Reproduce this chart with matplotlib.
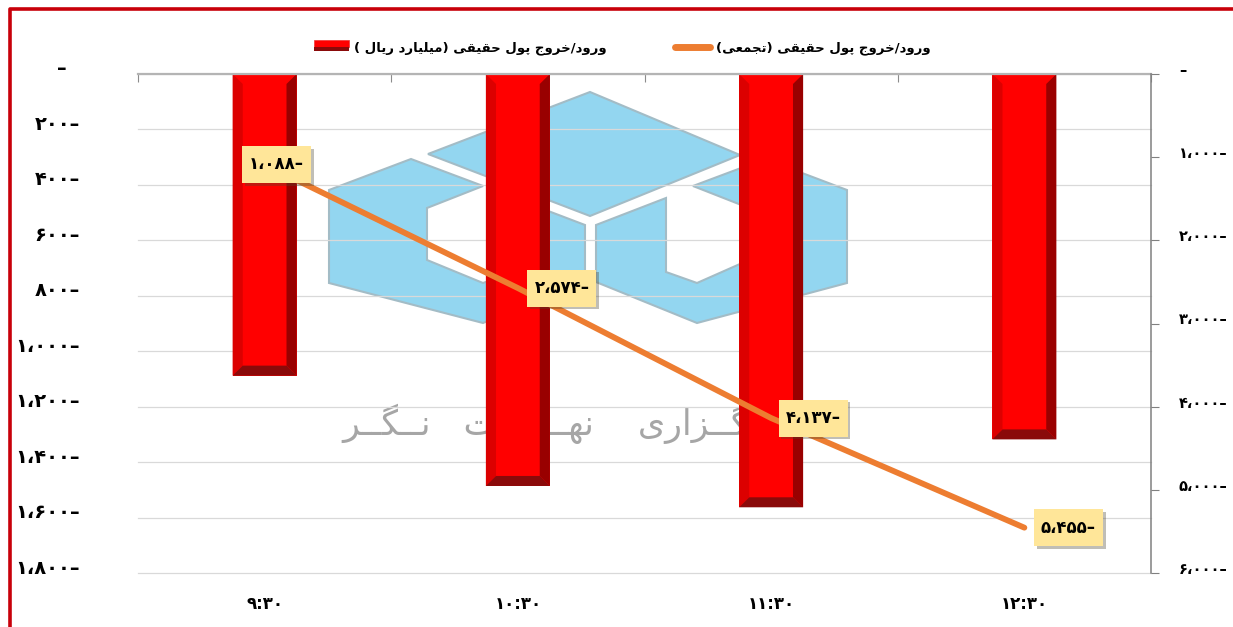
import matplotlib
matplotlib.use('Agg')
import matplotlib.pyplot as plt
import matplotlib.patheffects as pe
from matplotlib.legend_handler import HandlerBase
from matplotlib.lines import Line2D
from matplotlib.patches import Patch, Polygon, Rectangle
from matplotlib.transforms import Affine2D, ScaledTranslation

# chart data
times = ['۹:۳۰', '۱۰:۳۰', '۱۱:۳۰', '۱۲:۳۰']
flow = [-1088, -1486, -1563, -1318]
cumulative = [-1088, -2574, -4137, -5455]
left_ticks = [0, -200, -400, -600, -800, -1000, -1200, -1400, -1600, -1800]
right_ticks = [0, -1000, -2000, -3000, -4000, -5000, -6000]
bar_name = 'ورود/خروج پول حقیقی (میلیارد ریال )'
line_name = 'ورود/خروج پول حقیقی (تجمعی)'
# kashidas stretch the wide lettering of the watermark
watermark = 'خبــرگــزاری    نهــضــت   نــگــر'

W, H = 1233, 627
FONT = 'DejaVu Sans'

# matplotlib does not shape arabic script, so pick the joined forms by hand
# letter: (isolated, final, initial, medial)
FORMS = {
    'ا': (0xFE8D, 0xFE8E, None, None), 'ب': (0xFE8F, 0xFE90, 0xFE91, 0xFE92),
    'پ': (0xFB56, 0xFB57, 0xFB58, 0xFB59), 'ت': (0xFE95, 0xFE96, 0xFE97, 0xFE98),
    'ج': (0xFE9D, 0xFE9E, 0xFE9F, 0xFEA0), 'ح': (0xFEA1, 0xFEA2, 0xFEA3, 0xFEA4),
    'خ': (0xFEA5, 0xFEA6, 0xFEA7, 0xFEA8), 'د': (0xFEA9, 0xFEAA, None, None),
    'ر': (0xFEAD, 0xFEAE, None, None), 'ز': (0xFEAF, 0xFEB0, None, None),
    'ض': (0xFEBD, 0xFEBE, 0xFEBF, 0xFEC0), 'ع': (0xFEC9, 0xFECA, 0xFECB, 0xFECC),
    'ق': (0xFED5, 0xFED6, 0xFED7, 0xFED8), 'گ': (0xFB92, 0xFB93, 0xFB94, 0xFB95),
    'ل': (0xFEDD, 0xFEDE, 0xFEDF, 0xFEE0), 'م': (0xFEE1, 0xFEE2, 0xFEE3, 0xFEE4),
    'ن': (0xFEE5, 0xFEE6, 0xFEE7, 0xFEE8), 'ه': (0xFEE9, 0xFEEA, 0xFEEB, 0xFEEC),
    'و': (0xFEED, 0xFEEE, None, None), 'ی': (0xFBFC, 0xFBFD, 0xFBFE, 0xFBFF),
    'ـ': (0x640, 0x640, 0x640, 0x640),
}
MIRROR = {'(': ')', ')': '('}


def shape(text):
    out = []
    for i, ch in enumerate(text):
        if ch not in FORMS:
            out.append(MIRROR.get(ch, ch))
            continue
        prev = text[i - 1] if i > 0 else ''
        nxt = text[i + 1] if i + 1 < len(text) else ''
        join_prev = prev in FORMS and FORMS[prev][2] is not None
        join_next = nxt in FORMS and FORMS[ch][2] is not None
        form = (2 if not join_prev else 3) if join_next else (1 if join_prev else 0)
        out.append(chr(FORMS[ch][form]))
    return ''.join(reversed(out))


def fa(value):
    # persian digits, sign on the right as in the source
    digits = f'{abs(value):,}'.replace(',', '،')
    digits = digits.translate(str.maketrans('0123456789', '۰۱۲۳۴۵۶۷۸۹'))
    return digits + '–' if value < 0 else digits


fig = plt.figure(figsize=(W / 100, H / 100), dpi=100, facecolor='white')
ax = fig.add_axes([138 / W, 1 - 573 / H, (1151 - 138) / W, (573 - 74) / H])
ax2 = ax.twinx()
pixels = Affine2D().scale(1, -1).translate(0, H)

# red frame, open on the right and at the bottom
fig.add_artist(Line2D([9.5 / W, 9.5 / W, 1], [0, 1 - 9 / H, 1 - 9 / H], color='#c8000a', lw=2.6))

# logo behind the chart
logo_parts = [
    [(428, 154), (590, 92), (740, 155), (590, 216)],
    [(329, 190), (411, 159), (483, 186), (427, 208), (427, 260), (483, 283), (514, 272),
     (514, 198), (585, 225), (585, 282), (483, 323), (329, 283)],
    [(847, 190), (765, 159), (693, 186), (749, 208), (749, 260), (697, 283), (666, 272),
     (666, 198), (596, 225), (596, 282), (697, 323), (847, 283)],
]
for part in logo_parts:
    ax.add_patch(Polygon(part, closed=True, transform=pixels, clip_on=False, zorder=0.2,
                         facecolor='#93d6f0', edgecolor='#a3bcc6', lw=1.5))
ax.text(342, 424, shape(watermark), transform=pixels, color='#a6a6a6',
        fontsize=25, family=FONT, ha='left', va='center', zorder=0.3)

# bars with bevelled sides
bar_w = 0.2527
bev_x = 0.04
bev_y = 36
ax.bar(range(len(flow)), flow, width=bar_w, color='#ff0000', zorder=2)
for i, v in enumerate(flow):
    x0, x1 = i - bar_w / 2, i + bar_w / 2
    ax.add_patch(Polygon([(x0, 0), (x0 + bev_x, -bev_y), (x0 + bev_x, v + bev_y), (x0, v)],
                         facecolor='#dc0000', edgecolor='none', zorder=2.1))
    ax.add_patch(Polygon([(x1, 0), (x1 - bev_x, -bev_y), (x1 - bev_x, v + bev_y), (x1, v)],
                         facecolor='#990000', edgecolor='none', zorder=2.1))
    ax.add_patch(Polygon([(x0, v), (x0 + bev_x, v + bev_y), (x1 - bev_x, v + bev_y), (x1, v)],
                         facecolor='#8a0a0a', edgecolor='none', zorder=2.2))

ax.set_xlim(-0.5, len(times) - 0.5)
ax.set_ylim(left_ticks[-1], 0)
ax2.set_ylim(right_ticks[-1], 0)

# cumulative line and its boxed labels, offsets in pixels
line, = ax2.plot(range(len(cumulative)), cumulative, color='#ed7d31', lw=4.2,
                 solid_capstyle='round', zorder=3)
label_dx = [12, 44, 42, 44]
for i, v in enumerate(cumulative):
    cx, cy = ax2.transData.transform((i, v))
    cx += label_dx[i]
    box = Rectangle((cx - 34.5, cy - 18.5), 69, 37, transform=Affine2D(), facecolor='#ffe699',
                    edgecolor='none', clip_on=False, zorder=4)
    box.set_path_effects([pe.SimplePatchShadow(offset=(2, -2), alpha=0.35), pe.Normal()])
    ax2.add_patch(box)
    ax2.annotate(fa(v), (i, v), xytext=(label_dx[i] * 0.72, 0), textcoords='offset points',
                 ha='center', va='center', fontsize=12, fontweight='bold', family=FONT,
                 color='black', zorder=5)

# axes furniture
ax.set_axisbelow(True)
ax.grid(axis='y', color='#d9d9d9', lw=0.9)
for s in ['left', 'right', 'bottom']:
    ax.spines[s].set_visible(False)
ax.spines['top'].set_color('#b4b4b4')
ax.spines['top'].set_linewidth(1.6)
for s in ['left', 'top', 'bottom']:
    ax2.spines[s].set_visible(False)
ax2.spines['right'].set_color('#808080')
ax2.spines['right'].set_linewidth(1.1)

ax.set_xticks(range(len(times)))
ax.set_xticklabels(times, fontsize=12, fontweight='bold', family=FONT)
ax.set_xticks([i - 0.5 for i in range(len(times) + 1)], minor=True)
ax.tick_params(axis='x', which='major', length=0, pad=16)
ax.tick_params(axis='x', which='minor', bottom=False, top=True, direction='in', length=6,
               color='#8c8c8c', width=0.8)

ax.set_yticks(left_ticks)
ax.set_yticklabels(['–  '] + [fa(v) for v in left_ticks[1:]], fontsize=14, fontweight='bold', family=FONT)
ax.tick_params(axis='y', length=0, pad=42)
ax2.set_yticks(right_ticks)
ax2.set_yticklabels(['–'] + [fa(v) for v in right_ticks[1:]], fontsize=10.5, fontweight='bold', family=FONT)
ax2.tick_params(axis='y', length=6, color='#808080', pad=14, width=0.8)

# the lowest gridline sits on the axes edge, keep all of its width
for gl in ax.get_ygridlines():
    gl.set_clip_on(False)

shift_left = ScaledTranslation(0, 7 / 100, fig.dpi_scale_trans)
shift_right = ScaledTranslation(0, 5 / 100, fig.dpi_scale_trans)
for lab in ax.get_yticklabels():
    lab.set_transform(lab.get_transform() + shift_left)
for lab in ax2.get_yticklabels():
    lab.set_transform(lab.get_transform() + shift_right)


class BevelHandler(HandlerBase):
    def create_artists(self, legend, orig, xd, yd, width, height, fontsize, trans):
        top = Rectangle((-xd, -yd + height * 0.45), width, height * 0.75, facecolor='#ff0000',
                        edgecolor='#e33', lw=0.5, transform=trans)
        low = Rectangle((-xd, -yd), width, height * 0.45, facecolor='#8a0a0a',
                        edgecolor='none', transform=trans)
        return [top, low]


fig.legend([Patch(), Line2D([], [], color='#ed7d31', lw=5, solid_capstyle='round')],
           [shape(bar_name), shape(line_name)],
           handler_map={Patch: BevelHandler()}, ncols=2, frameon=False,
           loc='center left', bbox_to_anchor=(302 / W, 1 - 48 / H),
           prop=dict(family=FONT, weight='bold', size=9.5),
           handlelength=2.65, handletextpad=0.4, columnspacing=5.2)

fig.savefig('out.png', dpi=100, facecolor='white')
